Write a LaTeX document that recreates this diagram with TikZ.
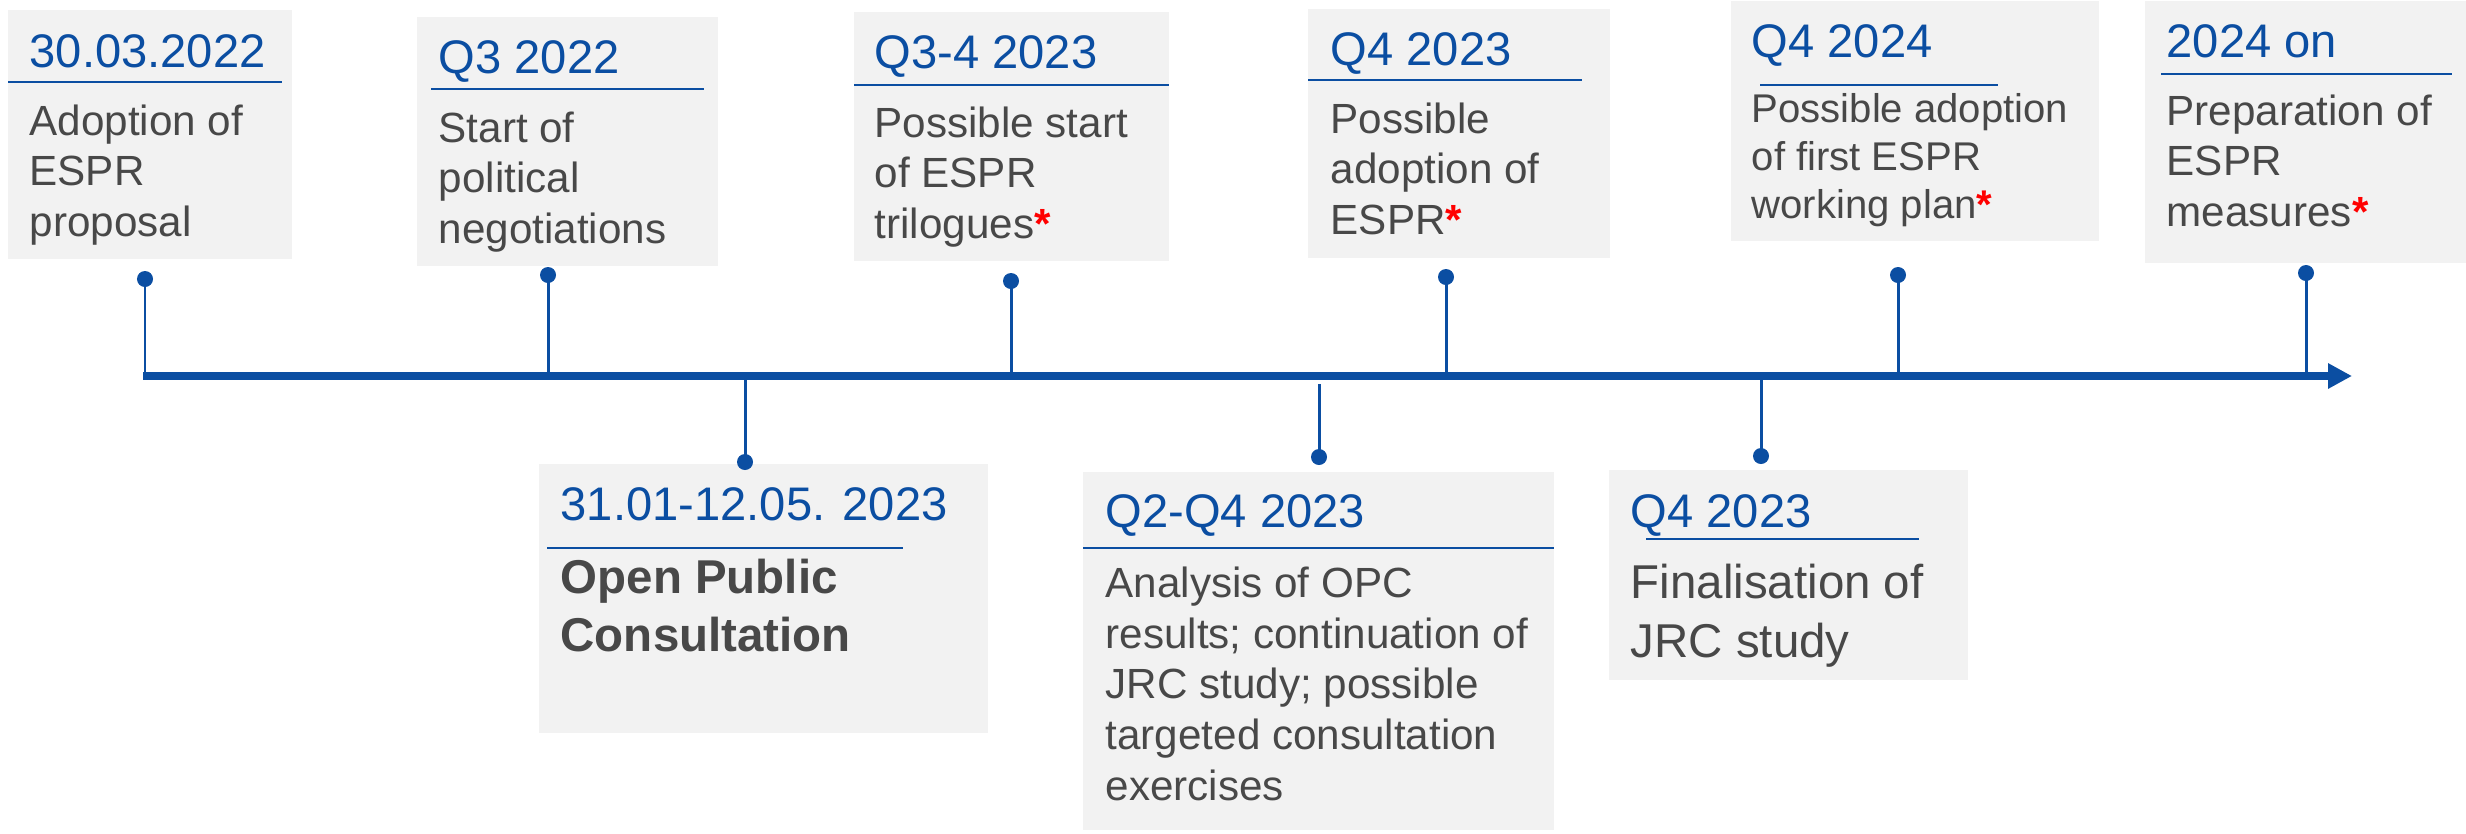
\documentclass[tikz,border=0pt]{standalone}
\usepackage{fontspec}
\setmainfont{Liberation Sans}
\usepackage{xcolor}
\usetikzlibrary{arrows.meta,fit}
\definecolor{eublue}{HTML}{0B4EA2}
\definecolor{cardgray}{HTML}{F2F2F2}
\definecolor{txtgray}{HTML}{484848}
\newcommand{\flag}{\textcolor{red}{\bfseries *}}
\newcommand{\cardtext}[1]{\begin{tabular}[t]{@{}l@{}}#1\end{tabular}}

\begin{document}
\begin{tikzpicture}[
  x=0.01cm, y=-0.01cm,
  card/.style={fill=cardgray, inner sep=0pt},
  datelbl/.style={anchor=base west, inner sep=0pt, text=eublue,
                  font=\fontsize{13.4}{16}\selectfont},
  bodylbl/.style={anchor=base west, inner sep=0pt, text=txtgray,
                  font=\fontsize{12}{14.5}\selectfont},
  pin/.style={circle, fill=eublue, inner sep=0pt, minimum size=0.16cm},
  stem/.style={draw=eublue, line width=0.85pt},
  rule/.style={draw=eublue, line width=0.5pt},
  timeaxis/.style={draw=eublue, line width=2.5pt,
                   -{Triangle[length=6.8pt,width=6.8pt]}}
]
\useasboundingbox (0,0) rectangle (2466,833);

% cards above the axis
\node[card, fit={(8,10) (292,259)}] (cA) {};
\node[card, fit={(417,17) (718,266)}] (cB) {};
\node[card, fit={(854,12) (1169,261)}] (cC) {};
\node[card, fit={(1308,9) (1610,258)}] (cD) {};
\node[card, fit={(1731,1) (2099,241)}] (cE) {};
\node[card, fit={(2145,1) (2466,263)}] (cF) {};
% cards below the axis
\node[card, fit={(539,464) (988,733)}] (cG) {};
\node[card, fit={(1083,472) (1554,830)}] (cH) {};
\node[card, fit={(1609,470) (1968,680)}] (cI) {};

% dates
\node[datelbl] (dA) at (29,67) {30.03.2022};
\node[datelbl] (dB) at (438,73) {Q3 2022};
\node[datelbl] (dC) at (874,68) {Q3-4 2023};
\node[datelbl] (dD) at (1330,65) {Q4 2023};
\node[datelbl] (dE) at (1751,57) {Q4 2024};
\node[datelbl] (dF) at (2166,57) {2024 on};
\node[datelbl] (dG) at (560,520) {31.01-12.05. 2023};
\node[datelbl] (dH) at (1105,527) {Q2-Q4 2023};
\node[datelbl] (dI) at (1630,527) {Q4 2023};

% underlines
\draw[rule] (8,82) -- (282,82);
\draw[rule] (431,89) -- (704,89);
\draw[rule] (854,85) -- (1169,85);
\draw[rule] (1308,80) -- (1582,80);
\draw[rule] (1760,85) -- (1998,85);
\draw[rule] (2161,74) -- (2452,74);
\draw[rule] (547,548) -- (903,548);
\draw[rule] (1083,548) -- (1554,548);
\draw[rule] (1646,539) -- (1919,539);

% texts
\node[bodylbl] (tA) at (29,135) {\cardtext{Adoption of\\ESPR\\proposal}};
\node[bodylbl] (tB) at (438,142) {\cardtext{Start of\\political\\negotiations}};
\node[bodylbl] (tC) at (874,137) {\cardtext{Possible start\\of ESPR\\trilogues\flag}};
\node[bodylbl] (tD) at (1330,133) {\cardtext{Possible\\adoption of\\ESPR\flag}};
\node[bodylbl, font=\fontsize{11.4}{13.65}\selectfont] (tE) at (1751,122)
  {\cardtext{Possible adoption\\of first ESPR\\working plan\flag}};
\node[bodylbl] (tF) at (2166,125) {\cardtext{Preparation of\\ESPR\\measures\flag}};
\node[bodylbl, font=\fontsize{13.5}{16.5}\selectfont\bfseries] (tG) at (560,593)
  {\cardtext{Open Public\\Consultation}};
\node[bodylbl] (tH) at (1105,597)
  {\cardtext{Analysis of OPC\\results; continuation of\\JRC study; possible\\targeted consultation\\exercises}};
\node[bodylbl, font=\fontsize{13.5}{16.8}\selectfont] (tI) at (1630,598)
  {\cardtext{Finalisation of\\JRC study}};

% timeline
\coordinate (tl) at (143,376);
\coordinate (tr) at (2352,376);
\draw[timeaxis] (tl) -- (tr);

% pins
\node[pin] (pA) at (145,279) {};
\node[pin] (pB) at (548,275) {};
\node[pin] (pC) at (1011,281) {};
\node[pin] (pD) at (1446,277) {};
\node[pin] (pE) at (1898,275) {};
\node[pin] (pF) at (2306,273) {};
\node[pin] (pG) at (745,462) {};
\node[pin] (pH) at (1319,457) {};
\node[pin] (pI) at (1761,456) {};
\draw[stem] (pA.center) -- (pA.center |- tl);
\draw[stem] (pB.center) -- (pB.center |- tl);
\draw[stem] (pC.center) -- (pC.center |- tl);
\draw[stem] (pD.center) -- (pD.center |- tl);
\draw[stem] (pE.center) -- (pE.center |- tl);
\draw[stem] (pF.center) -- (pF.center |- tl);
\draw[stem] (pG.center) -- (pG.center |- tl);
\draw[stem] (pH.center) -- ([yshift=-0.08cm]pH.center |- tl);
\draw[stem] (pI.center) -- (pI.center |- tl);
\end{tikzpicture}
\end{document}
